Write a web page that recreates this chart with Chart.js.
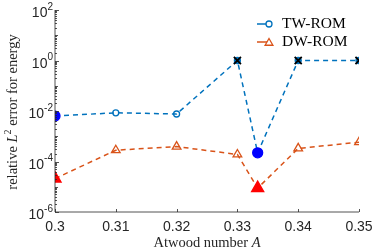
<!DOCTYPE html>
<html>
<head>
  <meta charset="utf-8">
  <title>Energy error</title>
  <script src="https://cdn.jsdelivr.net/npm/chart.js"></script>
  <style>body{margin:0;background:#fff;}#wrap{width:374px;height:250px;}</style>
</head>
<body>
  <div id="wrap"><canvas id="chart"></canvas></div>
  <script>
    // Atwood numbers (0.3333 is 1/3)
    const atwood = [0.3, 0.31, 0.32, 0.33, 1/3, 0.34, 0.35];
    const twRom = [0.0063, 0.0085, 0.0076, 1, 2.2e-4, 1, 1];
    const dwRom = [2.1e-5, 2.8e-4, 3.9e-4, 1.9e-4, 8.8e-6, 3.3e-4, 5.8e-4];
    // which TW points failed (shown with a cross)
    const twFailed = [false, false, false, true, false, true, true];
    // which points are highlighted with filled markers
    const filledPt = [true, false, false, false, true, false, false];
    const xTicks = [0.3, 0.31, 0.32, 0.33, 0.34, 0.35];
    const yExps = [-6, -4, -2, 0, 2];

    const BLUE = '#0072BD', ORANGE = '#D95319';
    const pts = (ys) => ys.map((y, i) => ({x: atwood[i], y: y}));

    const axes = {
      id: 'axes',
      afterDraw(chart) {
        const c = chart.ctx, a = chart.chartArea;
        const xs = chart.scales.x, ys = chart.scales.y;
        c.save();
        c.strokeStyle = '#262626'; c.lineWidth = 0.8;
        c.beginPath();
        c.moveTo(a.left, a.top); c.lineTo(a.left, a.bottom); c.lineTo(a.right, a.bottom);
        for (const t of xTicks) {
          const px = Math.round(xs.getPixelForValue(t)) + 0.5;
          c.moveTo(px, a.bottom); c.lineTo(px, a.bottom - 3);
        }
        for (let e = -6; e <= 2; e++) {
          for (let m = 1; m <= 9; m++) {
            if (e === 2 && m > 1) break;
            const py = Math.round(ys.getPixelForValue(m * Math.pow(10, e))) + 0.5;
            const len = m === 1 ? (e % 2 === 0 ? 4 : 3) : 2;
            c.moveTo(a.left, py); c.lineTo(a.left + len, py);
          }
        }
        c.stroke();

        c.fillStyle = '#262626';
        c.font = '14px "Liberation Sans"';
        c.textAlign = 'center'; c.textBaseline = 'middle';
        for (const t of xTicks) c.fillText(String(t), xs.getPixelForValue(t), 227);
        for (const e of yExps) {
          const py = ys.getPixelForValue(Math.pow(10, e));
          c.font = '10px "Liberation Sans"';
          c.textAlign = 'left';
          const sup = e < 0 ? '-' + (-e) : String(e);
          const sw = c.measureText(sup).width;
          c.font = '14px "Liberation Sans"';
          const bw = c.measureText('10').width;
          const x0 = 53 - sw - bw;
          c.fillText('10', x0, py + 3.5);
          c.font = '10px "Liberation Sans"';
          c.fillText(sup, x0 + bw, py - 3);
        }

        // axis titles
        c.fillStyle = '#262626';
        c.textBaseline = 'middle';
        const parts = [['relative ', 'normal', 14.5, 0], ['L', 'italic', 14.5, 0], ['2', 'normal', 10, -5], [' error for energy', 'normal', 14.5, 0]];
        let tot = 0;
        for (const p of parts) { c.font = p[1] + ' ' + p[2] + 'px "Liberation Serif"'; tot += c.measureText(p[0]).width; }
        c.save();
        c.translate(13, 112); c.rotate(-Math.PI / 2);
        let cx = -tot / 2;
        c.textAlign = 'left';
        for (const p of parts) {
          c.font = p[1] + ' ' + p[2] + 'px "Liberation Serif"';
          c.fillText(p[0], cx, p[3]);
          cx += c.measureText(p[0]).width;
        }
        c.restore();

        const xp = [['Atwood number ', 'normal'], ['A', 'italic']];
        tot = 0;
        for (const p of xp) { c.font = p[1] + ' 14.5px "Liberation Serif"'; tot += c.measureText(p[0]).width; }
        cx = (a.left + a.right) / 2 - tot / 2;
        for (const p of xp) {
          c.font = p[1] + ' 14.5px "Liberation Serif"';
          c.fillText(p[0], cx, 243);
          cx += c.measureText(p[0]).width;
        }

        // legend
        const items = [['TW-ROM', BLUE, 'circle', 24], ['DW-ROM', ORANGE, 'triangle', 42]];
        for (const it of items) {
          c.strokeStyle = it[1]; c.lineWidth = 1.5; c.setLineDash([]);
          c.beginPath(); c.moveTo(257, it[3]); c.lineTo(268, it[3]); c.stroke();
          c.fillStyle = '#fff'; c.lineWidth = 1.3;
          Chart.helpers.drawPoint(c, {pointStyle: it[2], radius: it[2] === 'circle' ? 3 : 4.5, borderWidth: 1.3}, 269, it[3] + (it[2] === 'circle' ? 0 : 1));
          c.fillStyle = '#000';
          c.font = '15.5px "Liberation Serif"';
          c.textAlign = 'left';
          c.fillText(it[0], 282, it[3]);
        }
        c.restore();
      }
    };

    new Chart(document.getElementById('chart'), {
      type: 'line',
      data: {
        datasets: [
          {
            label: 'TW-ROM', data: pts(twRom), borderColor: BLUE, borderWidth: 1.5, borderDash: [5, 4],
            order: 1,
            pointStyle: 'circle',
            pointRadius: atwood.map((_, i) => filledPt[i] ? 5 : (twFailed[i] ? 3 : 3)),
            pointBackgroundColor: atwood.map((_, i) => filledPt[i] ? '#0000FF' : (twFailed[i] ? BLUE : 'rgba(0,0,0,0)')),
            pointBorderColor: atwood.map((_, i) => filledPt[i] ? '#0000FF' : BLUE),
            pointBorderWidth: 1.3, tension: 0
          },
          {
            label: 'failed', data: pts(twRom).filter((_, i) => twFailed[i]), showLine: false,
            order: 0,
            pointStyle: 'crossRot', pointRadius: 5, pointBorderColor: '#000', pointBorderWidth: 1.8
          },
          {
            label: 'DW-ROM', data: pts(dwRom), borderColor: ORANGE, borderWidth: 1.5, borderDash: [5, 4],
            order: 2,
            pointStyle: 'triangle',
            pointRadius: atwood.map((_, i) => filledPt[i] ? 7 : 5),
            pointBackgroundColor: atwood.map((_, i) => filledPt[i] ? '#FF0000' : 'rgba(0,0,0,0)'),
            pointBorderColor: atwood.map((_, i) => filledPt[i] ? '#FF0000' : ORANGE),
            pointBorderWidth: 1.3, tension: 0
          }
        ]
      },
      options: {
        responsive: true, maintainAspectRatio: false, animation: false,
        layout: {padding: {top: 10, right: 15, left: 0, bottom: 0}},
        plugins: {legend: {display: false}, tooltip: {enabled: false}},
        scales: {
          x: {
            type: 'linear', min: 0.3, max: 0.35,
            grid: {display: false}, border: {display: false}, ticks: {display: false},
            afterFit(s) { s.height = 38; }
          },
          y: {
            type: 'logarithmic', min: 1e-6, max: 1e2,
            grid: {display: false}, border: {display: false}, ticks: {display: false},
            afterFit(s) { s.width = 55; }
          }
        }
      },
      plugins: [axes]
    });
  </script>
</body>
</html>
